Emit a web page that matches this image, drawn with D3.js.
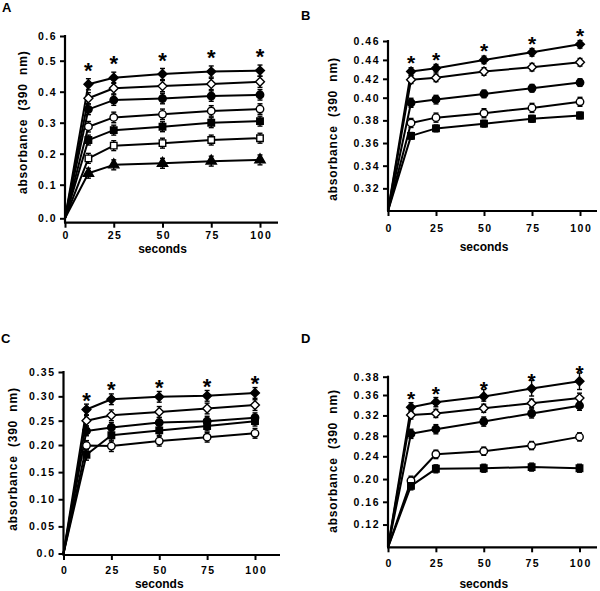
<!DOCTYPE html>
<html><head><meta charset="utf-8">
<script src="https://cdn.jsdelivr.net/npm/d3@7"></script>
<style>
body{margin:0;background:#fff;}
svg{display:block;font-family:"Liberation Sans",Arial,sans-serif;}
</style></head><body>
<svg id="chart" width="600" height="591"></svg>
<script>
// ---------- data ----------
const seconds = [12, 25, 50, 75, 100];
const xTicks = [0, 25, 50, 75, 100];
const xTickLabels = ["0", "25", "50", "75", "100"];
const shapes = ["diamondF", "diamondO", "circleF", "circleO", "squareF", "squareO", "triangleF"];

// Panel A
const aStart = 0;
const aSeries = [
  [0.424, 0.445, 0.457, 0.465, 0.468],
  [0.379, 0.411, 0.418, 0.425, 0.432],
  [0.343, 0.373, 0.378, 0.386, 0.390],
  [0.287, 0.317, 0.327, 0.338, 0.344],
  [0.244, 0.276, 0.287, 0.300, 0.305],
  [0.185, 0.226, 0.234, 0.244, 0.250],
  [0.137, 0.164, 0.169, 0.176, 0.180]
];
const aErr = [0.018, 0.018, 0.017, 0.017, 0.016, 0.016, 0.016];
const aTicks = [0, 0.1, 0.2, 0.3, 0.4, 0.5, 0.6];
const aTickLabels = ["0.0", "0.1", "0.2", "0.3", "0.4", "0.5", "0.6"];

// Panel B
const bStart = 0.30;
const bSeries = [
  [0.4277, 0.4312, 0.4400, 0.4480, 0.4565],
  [0.4190, 0.4210, 0.4277, 0.4323, 0.4375],
  [0.3955, 0.3985, 0.4040, 0.4100, 0.4160],
  [0.3777, 0.3824, 0.3863, 0.3910, 0.3964],
  [0.3663, 0.3729, 0.3771, 0.3814, 0.3843]
];
const bErr = [0.004, 0.004, 0.004, 0.004, 0.003];
const bTicks = [0.32, 0.34, 0.36, 0.38, 0.40, 0.42, 0.44, 0.46];
const bTickLabels = ["0.32", "0.34", "0.36", "0.38", "0.40", "0.42", "0.44", "0.46"];

// Panel C
const cStart = 0;
const cSeries = [
  [0.273, 0.294, 0.299, 0.301, 0.307],
  [0.250, 0.261, 0.268, 0.275, 0.282],
  [0.229, 0.236, 0.246, 0.249, 0.256],
  [0.199, 0.198, 0.208, 0.216, 0.224],
  [0.182, 0.220, 0.230, 0.239, 0.249]
];
const cErr = [0.011, 0.011, 0.010, 0.010, 0.010];
const cTicks = [0, 0.05, 0.10, 0.15, 0.20, 0.25, 0.30, 0.35];
const cTickLabels = ["0.0", "0.05", "0.10", "0.15", "0.20", "0.25", "0.30", "0.35"];

// Panel D
const dStart = 0.08;
const dSeries = [
  [0.336, 0.346, 0.357, 0.367, 0.375],
  [0.321, 0.324, 0.334, 0.344, 0.354],
  [0.284, 0.293, 0.308, 0.324, 0.339],
  [0.197, 0.244, 0.250, 0.261, 0.278],
  [0.188, 0.218, 0.219, 0.221, 0.219]
];
const dErr = [0.009, 0.008, 0.009, 0.008, 0.007];
const dTicks = [0.12, 0.16, 0.20, 0.24, 0.28, 0.32, 0.36, 0.38];
const dTickLabels = ["0.12", "0.16", "0.20", "0.24", "0.28", "0.32", "0.36", "0.38"];

const yTitle = "absorbance  (390  nm)";
const xTitle = "seconds";

// ---------- layout ----------
const panels = [
  {letter:"A", start:aStart, series:aSeries, err:aErr, ticks:aTicks, labels:aTickLabels,
   L:{xRange:[65,260], xEnd:278, yDomain:[0,0.1,0.5,0.6], yRange:[218.3,184.7,60.7,36], xAxisY:222.7,
      letterPos:[2,12], titleX:23.3, titleY:122.3, tickBase:239, secBase:253, starOff:19, starSize:22, starW:"bold"}},
  {letter:"B", start:bStart, series:bSeries, err:bErr, ticks:bTicks, labels:bTickLabels,
   L:{xRange:[388,580], xEnd:597, yDomain:[0.30,0.40,0.46], yRange:[211,97.7,41], xAxisY:211,
      letterPos:[301,20], titleX:333.3, titleY:129, tickBase:232, secBase:251, starOff:13.5, starSize:21, starW:"bold"}},
  {letter:"C", start:cStart, series:cSeries, err:cErr, ticks:cTicks, labels:cTickLabels,
   L:{xRange:[63.5,255], xEnd:280, yDomain:[0,0.20,0.35], yRange:[553.5,445,372], xAxisY:555,
      letterPos:[1,343], titleX:13.3, titleY:459, tickBase:574, secBase:588, starOff:14.5, starSize:22, starW:"bold"}},
  {letter:"D", start:dStart, series:dSeries, err:dErr, ticks:dTicks, labels:dTickLabels,
   L:{xRange:[388,579.5], xEnd:597, yDomain:[0.08,0.24,0.36,0.38], yRange:[547.3,456.3,395,376.7], xAxisY:547.3,
      letterPos:[301,343], titleX:333, titleY:461, tickBase:567, secBase:587.5, starOff:13, starSize:21, starW:"bold"}}
];

const svg = d3.select("#chart");
const diamond = d3.symbolDiamond2 || d3.symbolDiamond;
const symType = {diamond: diamond, circle: d3.symbolCircle, square: d3.symbolSquare, triangle: d3.symbolTriangle};
const symSize = {diamond: 50, circle: 44, square: 42, triangle: 46};

panels.forEach(p => {
  const L = p.L;
  const g = svg.append("g");
  const x = d3.scaleLinear().domain([0, 100]).range(L.xRange);
  const y = d3.scaleLinear().domain(L.yDomain).range(L.yRange);
  const x0 = L.xRange[0];

  // panel letter
  g.append("text").attr("x", L.letterPos[0]).attr("y", L.letterPos[1])
    .attr("font-size", 13).attr("font-weight", "bold").text(p.letter);

  // y axis
  const yAx = g.append("g").attr("transform", `translate(${x0},0)`)
    .call(d3.axisLeft(y).tickValues(p.ticks).tickSize(5).tickPadding(3)
      .tickFormat((d, i) => p.labels[i]));
  yAx.select(".domain").remove();
  yAx.selectAll(".tick line").attr("stroke", "#000").attr("stroke-width", 2);
  yAx.selectAll(".tick text").attr("font-size", 10.5).attr("font-weight", "bold")
    .attr("font-family", "Liberation Sans, Arial, sans-serif")
    .style("letter-spacing", "1.5px").attr("fill", "#000");
  g.append("line").attr("x1", x0).attr("x2", x0)
    .attr("y1", y(L.yDomain[L.yDomain.length - 1]) - 1).attr("y2", L.xAxisY)
    .attr("stroke", "#000").attr("stroke-width", 2.2);

  // x axis
  const xAx = g.append("g").attr("transform", `translate(0,${L.xAxisY})`)
    .call(d3.axisBottom(x).tickValues(xTicks).tickSize(5).tickPadding(4)
      .tickFormat((d, i) => xTickLabels[i]));
  xAx.select(".domain").remove();
  xAx.selectAll(".tick line").attr("stroke", "#000").attr("stroke-width", 2);
  xAx.selectAll(".tick text").attr("font-size", 10.5).attr("font-weight", "bold")
    .attr("font-family", "Liberation Sans, Arial, sans-serif")
    .style("letter-spacing", "1.5px").attr("fill", "#000")
    .attr("y", null).attr("dy", null)
    .attr("transform", `translate(0.75,${L.tickBase - L.xAxisY})`);
  g.append("line").attr("x1", x0 - 1).attr("x2", L.xEnd)
    .attr("y1", L.xAxisY).attr("y2", L.xAxisY)
    .attr("stroke", "#000").attr("stroke-width", 2.2);

  // titles
  g.append("text").attr("transform", `translate(${L.titleX},${L.titleY}) rotate(-90)`)
    .attr("text-anchor", "middle").attr("dominant-baseline", "central")
    .attr("font-size", 12).attr("font-weight", "bold")
    .style("letter-spacing", "0.8px").style("white-space", "pre").text(yTitle);
  g.append("text").attr("x", x(50)).attr("y", L.secBase).attr("text-anchor", "middle")
    .attr("font-size", 12).attr("font-weight", "bold").text(xTitle);

  // lines
  const line = d3.line().x(d => x(d[0])).y(d => y(d[1])).curve(d3.curveLinear);
  p.series.forEach(s => {
    const pts = [[0, p.start]].concat(seconds.map((t, i) => [t, s[i]]));
    g.append("path").attr("d", line(pts)).attr("fill", "none")
      .attr("stroke", "#000").attr("stroke-width", 2).attr("stroke-linejoin", "round");
  });

  // error bars
  p.series.forEach((s, si) => {
    const e = p.err[si];
    seconds.forEach((t, i) => {
      const cx = x(t), yt = y(s[i] + e), yb = y(s[i] - e);
      g.append("line").attr("x1", cx).attr("x2", cx).attr("y1", yt).attr("y2", yb)
        .attr("stroke", "#000").attr("stroke-width", 1.4);
      [yt, yb].forEach(yy => g.append("line").attr("x1", cx - 2.5).attr("x2", cx + 2.5)
        .attr("y1", yy).attr("y2", yy).attr("stroke", "#000").attr("stroke-width", 1.4));
    });
  });

  // markers
  p.series.forEach((s, si) => {
    const sh = shapes[si];
    const kind = sh.slice(0, -1), filled = sh.endsWith("F");
    const sym = d3.symbol().type(symType[kind]).size(symSize[kind]);
    seconds.forEach((t, i) => {
      g.append("path").attr("d", sym())
        .attr("transform", `translate(${x(t)},${y(s[i])})`)
        .attr("fill", filled ? "#000" : "#fff").attr("stroke", "#000").attr("stroke-width", 1.4);
    });
  });

  // significance stars
  seconds.forEach((t, i) => {
    const top = d3.max(p.series, s => s[i]);
    const cy = y(top) - L.starOff;
    g.append("text").attr("x", x(t)).attr("y", cy + 0.57 * L.starSize)
      .attr("text-anchor", "middle").attr("font-size", L.starSize)
      .attr("font-weight", L.starW).text("*");
  });
});
</script>
</body></html>
